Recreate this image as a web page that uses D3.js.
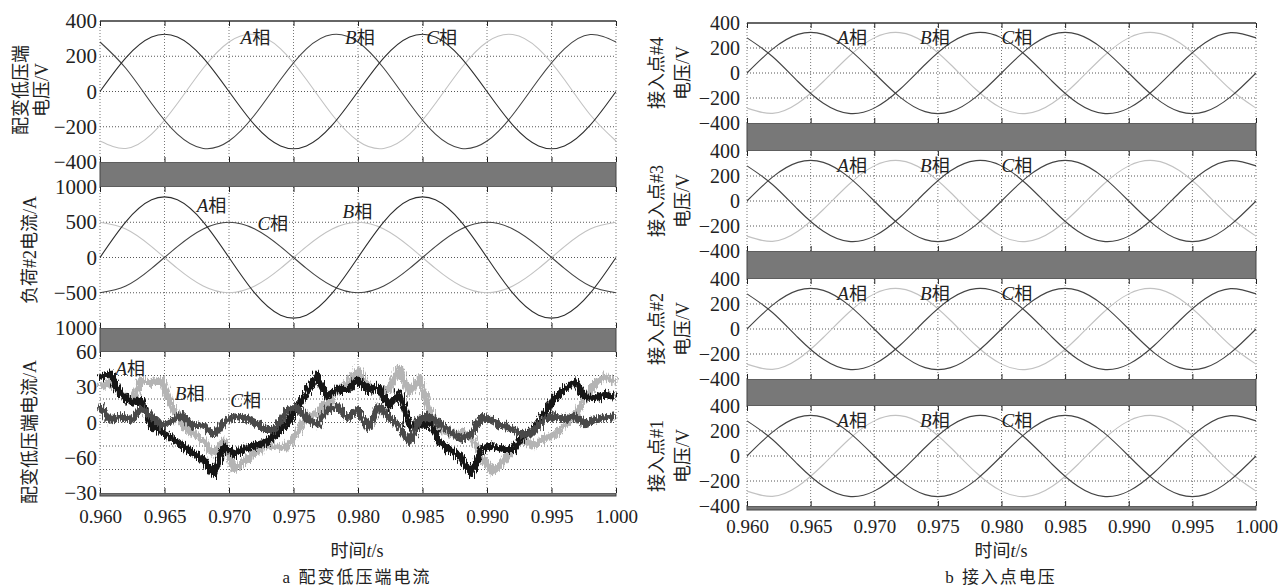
<!DOCTYPE html>
<html>
<head>
<meta charset="utf-8">
<script src="https://cdn.jsdelivr.net/npm/d3@7/dist/d3.min.js"></script>
<style>
  body { margin: 0; background: #fff; }
  text { font-family: "Liberation Serif", "Times New Roman", Tinos, "DejaVu Serif", serif, "Noto Sans CJK SC"; fill: #222; }
</style>
</head>
<body>
<script>
var w = 1287
var h = 588

// x axis (time, s)
var gridX = [0.960, 0.965, 0.970, 0.975, 0.980, 0.985, 0.990, 0.995, 1.000]
var xTickLabels = ["0.960", "0.965", "0.970", "0.975", "0.980", "0.985", "0.990", "0.995", "1.000"]

// sample times for the sine panels
var sineT = [0.960, 0.962, 0.964, 0.966, 0.968, 0.970, 0.972, 0.974, 0.976, 0.978, 0.980,
             0.982, 0.984, 0.986, 0.988, 0.990, 0.992, 0.994, 0.996, 0.998, 1.000]

// 配变低压端电压 (V)
var lvVoltA = [0, 191, 309, 309, 191, 0, -191, -309, -309, -191, 0, 191, 309, 309, 191, 0, -191, -309, -309, -191, 0]
var lvVoltB = [281, 132, -68, -242, -323, -281, -132, 68, 242, 323, 281, 132, -68, -242, -323, -281, -132, 68, 242, 323, 281]
var lvVoltC = [-281, -323, -242, -68, 132, 281, 323, 242, 68, -132, -281, -323, -242, -68, 132, 281, 323, 242, 68, -132, -281]

// 负荷#2电流 (A)
var loadCurA = [0, 506, 818, 818, 506, 0, -506, -818, -818, -506, 0, 506, 818, 818, 506, 0, -506, -818, -818, -506, 0]
var loadCurB = [500, 405, 155, -155, -405, -500, -405, -155, 155, 405, 500, 405, 155, -155, -405, -500, -405, -155, 155, 405, 500]
var loadCurC = [-500, -405, -155, 155, 405, 500, 405, 155, -155, -405, -500, -405, -155, 155, 405, 500, 405, 155, -155, -405, -500]

// 配变低压端电流 (A), read every 0.8 ms
var noiseT = [0.9600, 0.9608, 0.9616, 0.9624, 0.9632, 0.9640, 0.9648, 0.9656, 0.9664, 0.9672,
              0.9680, 0.9688, 0.9696, 0.9704, 0.9712, 0.9720, 0.9728, 0.9736, 0.9744, 0.9752,
              0.9760, 0.9768, 0.9776, 0.9784, 0.9792, 0.9800, 0.9808, 0.9816, 0.9824, 0.9832,
              0.9840, 0.9848, 0.9856, 0.9864, 0.9872, 0.9880, 0.9888, 0.9896, 0.9904, 0.9912,
              0.9920, 0.9928, 0.9936, 0.9944, 0.9952, 0.9960, 0.9968, 0.9976, 0.9984, 0.9992, 1.0000]
var lvCurA = [38, 42, 24, 17, 19, -3, -8, -14, -20, -26, -31, -44, -20, -27, -22, -20, -17, -10, -2, 12,
              25, 40, 22, 28, 28, 36, 28, 30, 14, 25, -3, -3, 0, -18, -24, -30, -44, -22, -20, -23,
              -23, -12, -6, 6, 20, 28, 35, 22, 21, 24, 22]
var lvCurB = [30, 34, 25, 17, 36, 34, 36, 14, -3, -9, -15, -26, -16, -40, -33, -26, -20, -20, -22, -10,
              5, 8, 16, 27, 34, 45, 30, 28, 28, 46, 25, 38, 8, -6, -10, -8, -12, -30, -42, -34,
              -23, -14, -20, -14, -11, -3, 5, 20, 34, 39, 34]
var lvCurC = [14, 2, 5, 2, 12, 5, -3, 2, 6, -3, -2, -11, 0, 5, 4, 0, -6, -6, 10, 13,
              4, -2, 10, 14, 4, 11, -5, 14, 5, -3, -17, 3, 5, -2, -8, -14, -10, 5, 2, -3,
              -6, -11, -8, 3, 5, 3, 5, -1, 3, 4, 5]

// 接入点#1..#4电压 (V), the four panels show the same waveforms
var nodeVoltA = [0, 191, 309, 309, 191, 0, -191, -309, -309, -191, 0, 191, 309, 309, 191, 0, -191, -309, -309, -191, 0]
var nodeVoltB = [281, 132, -68, -242, -323, -281, -132, 68, 242, 323, 281, 132, -68, -242, -323, -281, -132, 68, 242, 323, 281]
var nodeVoltC = [-281, -323, -242, -68, 132, 281, 323, 242, 68, -132, -281, -323, -242, -68, 132, 281, 323, 242, 68, -132, -281]
var nodeNames = ["接入点#4", "接入点#3", "接入点#2", "接入点#1"]

// y ticks
var voltTicks = [400, 200, 0, -200, -400]
var voltTickLabels = ["400", "200", "0", "\u2212200", "\u2212400"]
var loadTicks = [1000, 500, 0, -500, -1000]
var loadTickLabels = ["1000", "500", "0", "\u2212500", "1000"]
var curTicks = [60, 30, 0, -30, -60]
var curTickLabels = ["60", "30", "0", "\u221260", "\u221230"]
var curGrid = [40, 20, 0, -20, -40]

// phase labels, in data units [phase, t, value]
var lvVoltNotes = [["A", 0.9709, 309], ["B", 0.9790, 309], ["C", 0.9853, 309]]
var loadNotes = [["A", 0.9675, 741], ["C", 0.9722, 482], ["B", 0.9788, 655]]
var lvCurNotes = [["A", 0.9612, 46], ["B", 0.9658, 25], ["C", 0.9701, 19]]
var nodeNotes = [["A", 0.9671, 285], ["B", 0.9736, 285], ["C", 0.9800, 285]]

var dark = "#2e2e2e"
var dark2 = "#444"
var light = "#c2c2c2"
var bandFill = "#787878"

var svg = d3.select("body").append("svg")
    .attr("width", w)
    .attr("height", h)

// rough edge for the noisy current traces
var fuzz = svg.append("defs").append("filter")
    .attr("id", "fuzz")
    .attr("x", "-2%").attr("y", "-10%")
    .attr("width", "104%").attr("height", "120%")
fuzz.append("feTurbulence")
    .attr("type", "fractalNoise")
    .attr("baseFrequency", "0.9 0.12")
    .attr("numOctaves", 2)
    .attr("seed", 4)
    .attr("result", "noise")
fuzz.append("feDisplacementMap")
    .attr("in", "SourceGraphic").attr("in2", "noise")
    .attr("scale", 10)
    .attr("xChannelSelector", "R").attr("yChannelSelector", "G")

function band(x0, x1, y0, y1) {
  svg.append("rect")
     .attr("x", x0).attr("y", y0)
     .attr("width", x1 - x0).attr("height", y1 - y0)
     .attr("fill", bandFill)
     .attr("stroke", "#444").attr("stroke-width", 1)
}

function drawPanel(p) {
  var x = d3.scaleLinear().domain([0.96, 1.0]).range([p.x0, p.x1])
  var y = d3.scaleLinear().domain(p.yDomain).range([p.bottom, p.top])
  var g = svg.append("g")

  g.append("rect")
   .attr("x", p.x0).attr("y", p.top)
   .attr("width", p.x1 - p.x0).attr("height", p.bottom - p.top)
   .attr("fill", "#fff")

  // dotted grid
  g.selectAll("line.vgrid").data(gridX).enter().append("line")
   .attr("x1", d => x(d)).attr("x2", d => x(d))
   .attr("y1", p.top).attr("y2", p.bottom)
   .attr("stroke", "#777").attr("stroke-dasharray", "1,2")
  g.selectAll("line.hgrid").data(p.yGrid).enter().append("line")
   .attr("x1", p.x0).attr("x2", p.x1)
   .attr("y1", d => y(d)).attr("y2", d => y(d))
   .attr("stroke", "#555").attr("stroke-dasharray", "1,2")

  // curves
  p.series.forEach(function (s) {
    var line = d3.line()
        .x((d, i) => x(s.t[i]))
        .y(d => y(d))
        .curve(s.curve || d3.curveNatural)
    var path = g.append("path")
     .datum(s.v)
     .attr("d", line)
     .attr("fill", "none")
     .attr("stroke", s.color)
     .attr("stroke-width", s.width || 1.1)
     .attr("stroke-linejoin", "round")
    if (s.fuzz) path.attr("filter", "url(#fuzz)")
  })

  // inward ticks top and bottom
  var tTop = g.append("g").attr("transform", "translate(0," + p.top + ")")
      .call(d3.axisBottom(x).tickValues(gridX).tickSize(5).tickFormat(""))
  var tBot = g.append("g").attr("transform", "translate(0," + p.bottom + ")")
      .call(d3.axisTop(x).tickValues(gridX).tickSize(5).tickFormat(""))
  tTop.select(".domain").remove()
  tBot.select(".domain").remove()
  g.selectAll(".tick line").attr("stroke", "#222")

  if (p.topLine) {
    g.append("line")
     .attr("x1", p.x0).attr("x2", p.x1)
     .attr("y1", p.top).attr("y2", p.top)
     .attr("stroke", "#333").attr("stroke-width", 1.5)
  }

  // y tick labels
  var ya = g.append("g")
      .attr("transform", "translate(" + p.x0 + ",0)")
      .call(d3.axisLeft(y).tickValues(p.yTicks)
              .tickFormat((d, i) => p.yLabels[i])
              .tickSize(0).tickPadding(p.pad))
  ya.select(".domain").remove()
  ya.selectAll("text")
    .style("font-size", p.yFont + "px")
    .attr("fill", "#222")

  // phase labels
  p.notes.forEach(function (n) {
    var t = g.append("text")
        .attr("x", x(n[1]))
        .attr("y", y(n[2]))
        .attr("dy", "0.35em")
        .style("font-size", "19px")
    t.append("tspan").style("font-style", "italic").text(n[0])
    t.append("tspan").style("font-size", "18px").text("相")
  })

  // x tick labels
  if (p.xLabels) {
    var xa = g.append("g")
        .attr("transform", "translate(0," + p.bottom + ")")
        .call(d3.axisBottom(x).tickValues(gridX)
                .tickFormat((d, i) => xTickLabels[i])
                .tickSize(0).tickPadding(p.xPad))
    xa.select(".domain").remove()
    xa.selectAll("text")
      .style("font-size", "19px")
      .attr("fill", "#222")
  }
  return g
}

function yLabel(lines, cx, cy, gap) {
  lines.forEach(function (s, i) {
    svg.append("text")
       .attr("transform", "translate(" + (cx + i * gap) + "," + cy + ") rotate(-90)")
       .attr("text-anchor", "middle")
       .attr("dominant-baseline", "central")
       .style("font-size", "18px")
       .text(s)
  })
}

function xTitle(cx, cy) {
  var t = svg.append("text")
      .attr("x", cx).attr("y", cy)
      .attr("text-anchor", "middle")
      .style("font-size", "18px")
  t.append("tspan").text("时间")
  t.append("tspan").style("font-style", "italic").text("t")
  t.append("tspan").text("/s")
}

// ---------- left figure (a) ----------
var L = { x0: 100, x1: 616 }
var lTops = [21, 187, 352]
var lH = 141

band(L.x0, L.x1, lTops[0] + lH, lTops[1])
band(L.x0, L.x1, lTops[1] + lH, lTops[2])
band(L.x0, L.x1, lTops[2] + lH, lTops[2] + lH + 3)

drawPanel({
  x0: L.x0, x1: L.x1, top: lTops[0], bottom: lTops[0] + lH,
  yDomain: [-400, 400], yTicks: voltTicks, yLabels: voltTickLabels, yGrid: [200, 0, -200],
  pad: 3, yFont: 21, topLine: true, notes: lvVoltNotes,
  series: [
    { t: sineT, v: lvVoltC, color: light },
    { t: sineT, v: lvVoltB, color: dark2 },
    { t: sineT, v: lvVoltA, color: dark }
  ]
})
drawPanel({
  x0: L.x0, x1: L.x1, top: lTops[1], bottom: lTops[1] + lH,
  yDomain: [-1000, 1000], yTicks: loadTicks, yLabels: loadTickLabels, yGrid: [500, 0, -500],
  pad: 3, yFont: 21, notes: loadNotes,
  series: [
    { t: sineT, v: loadCurB, color: light },
    { t: sineT, v: loadCurC, color: dark2 },
    { t: sineT, v: loadCurA, color: dark }
  ]
})
drawPanel({
  x0: L.x0, x1: L.x1, top: lTops[2], bottom: lTops[2] + lH,
  yDomain: [-60, 60], yTicks: curTicks, yLabels: curTickLabels, yGrid: curGrid,
  pad: 3, yFont: 21, notes: lvCurNotes, xLabels: true, xPad: 17,
  series: [
    { t: noiseT, v: lvCurB, color: "#b4b4b4", width: 7, curve: d3.curveLinear, fuzz: true },
    { t: noiseT, v: lvCurA, color: "#141414", width: 7, curve: d3.curveLinear, fuzz: true },
    { t: noiseT, v: lvCurC, color: "#4a4a4a", width: 7, curve: d3.curveLinear, fuzz: true }
  ]
})

yLabel(["配变低压端", "电压/V"], 21, 90, 21)
yLabel(["负荷#2电流/A"], 30, 250, 0)
yLabel(["配变低压端电流/A"], 30, 432, 0)
xTitle(357, 557)
svg.append("text")
   .attr("x", 357).attr("y", 583)
   .attr("text-anchor", "middle")
   .style("font-size", "17px")
   .style("letter-spacing", "2px")
   .text("a 配变低压端电流")

// ---------- right figure (b) ----------
var R = { x0: 747, x1: 1256 }
var rTops = [23, 151, 279, 406]
var rH = 100

band(R.x0, R.x1, rTops[0] + rH, rTops[1])
band(R.x0, R.x1, rTops[1] + rH, rTops[2])
band(R.x0, R.x1, rTops[2] + rH, rTops[3])
band(R.x0, R.x1, rTops[3] + rH, rTops[3] + rH + 4)

rTops.forEach(function (top, i) {
  drawPanel({
    x0: R.x0, x1: R.x1, top: top, bottom: top + rH,
    yDomain: [-400, 400], yTicks: voltTicks, yLabels: voltTickLabels, yGrid: [200, 0, -200],
    pad: 7, yFont: 20, topLine: i === 0, notes: nodeNotes, xLabels: i === 3, xPad: 14,
    series: [
      { t: sineT, v: nodeVoltC, color: light },
      { t: sineT, v: nodeVoltB, color: dark2 },
      { t: sineT, v: nodeVoltA, color: dark2 }
    ]
  })
  yLabel([nodeNames[i], "电压/V"], 657, top + rH / 2, 26)
})

xTitle(1001, 557)
svg.append("text")
   .attr("x", 1001).attr("y", 583)
   .attr("text-anchor", "middle")
   .style("font-size", "17px")
   .style("letter-spacing", "2px")
   .text("b 接入点电压")
</script>
</body>
</html>
